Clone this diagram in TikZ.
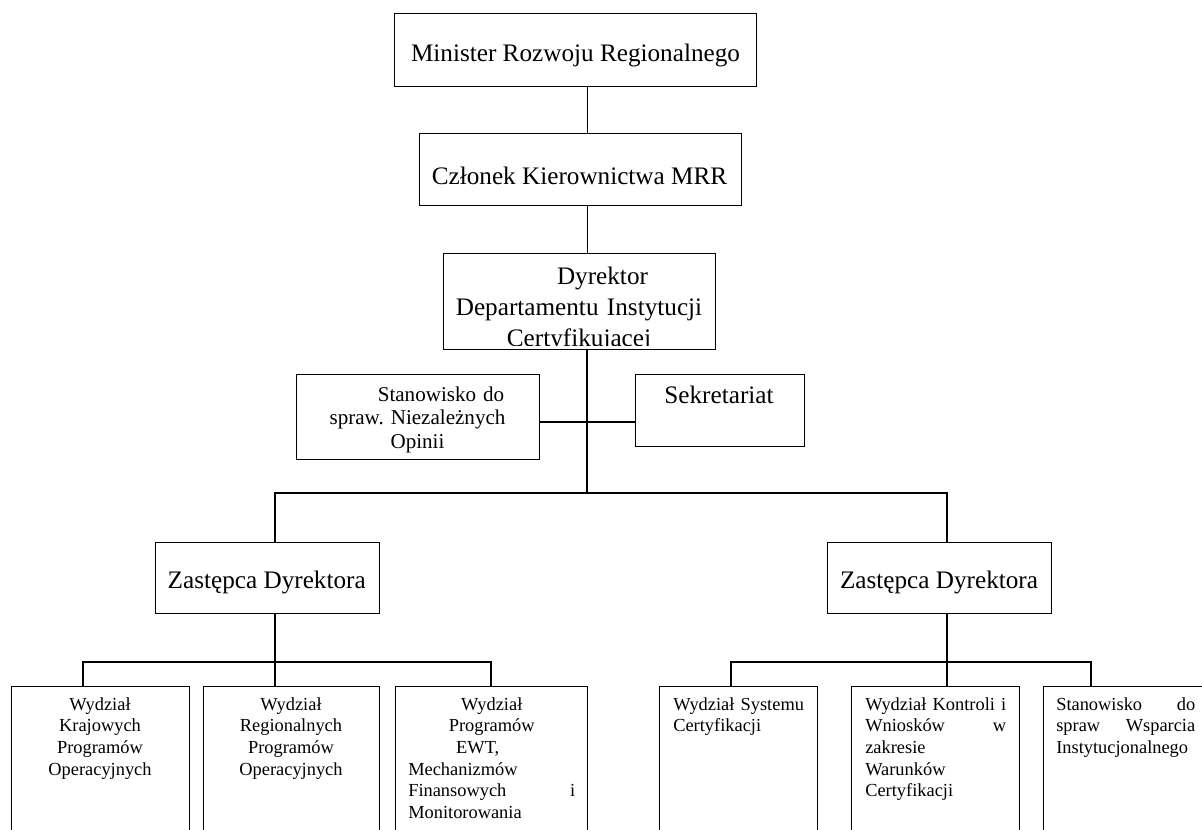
\documentclass[tikz,border=0pt]{standalone}
\usepackage{fontspec}
\setmainfont{Liberation Serif}

\begin{document}
\begin{tikzpicture}[x=0.75pt,y=0.75pt,yscale=-1,xscale=1,
  box/.style={draw, line width=1.1pt, inner sep=0pt, anchor=north west},
  conn/.style={line width=1.1pt},
  thinconn/.style={line width=0.75pt},
  bigtext/.style={font=\fontsize{18.9}{23.5}\selectfont, inner sep=0pt},
  medtext/.style={font=\fontsize{15.8}{17.7}\selectfont, inner sep=0pt},
  smalltext/.style={font=\fontsize{13.8}{16.3}\selectfont, inner sep=0pt}]
%uncomment if require: \path (0,829); %set diagram left start at 0, and has height of 829
\useasboundingbox (0,0) rectangle (1202,829);
\clip (0,0) rectangle (1202,829);

%Shape: Rectangle
\node[box, minimum width=271.5pt, minimum height=54.75pt] (min) at (394,13) {};
\node[box, minimum width=241.5pt, minimum height=54pt] (czl) at (419,133) {};
\node[box, minimum width=204pt, minimum height=72pt] (dyr) at (443,253) {};
\node[box, minimum width=182.25pt, minimum height=63.75pt] (sta) at (296,374) {};
\node[box, minimum width=126.75pt, minimum height=54pt] (sek) at (635,374) {};
\node[box, minimum width=168pt, minimum height=53.25pt] (zl) at (155,542) {};
\node[box, minimum width=168pt, minimum height=53.25pt] (zr) at (827,542) {};
%Shape: Rectangle (cut at the bottom)
\node[box, minimum width=133.5pt, minimum height=130.5pt] (wk) at (11,686) {};
\node[box, minimum width=132pt, minimum height=130.5pt] (wr) at (203,686) {};
\node[box, minimum width=144pt, minimum height=130.5pt] (wp) at (395,686) {};
\node[box, minimum width=118.5pt, minimum height=130.5pt] (ws) at (659,686) {};
\node[box, minimum width=126pt, minimum height=130.5pt] (wn) at (851,686) {};
\node[box, minimum width=124.5pt, minimum height=130.5pt] (wi) at (1043,686) {};

%Straight Lines
\coordinate (axis) at (587,493);
\coordinate (sideline) at (587,422);
\coordinate (jl) at (275,493);
\coordinate (jr) at (947,493);
\coordinate (bl) at (275,662);
\coordinate (dk) at (83,662);
\coordinate (dp) at (491,662);
\coordinate (br) at (947,662);
\coordinate (ds) at (731,662);
\coordinate (di) at (1091,662);
\draw[thinconn] (axis |- min.south) -- (axis |- czl.north);
\draw[thinconn] (axis |- czl.south) -- (axis |- dyr.north);
\draw[conn] (axis |- dyr.south) -- (axis);
\draw[conn] (sideline -| sta.east) -- (sideline -| sek.west);
\draw[conn] (jl |- zl.north) -- (jl) -- (jr) -- (jr |- zr.north);
\draw[conn] (jl |- zl.south) -- (bl) -- (bl |- wr.north);
\draw[conn] (dk |- wk.north) -- (dk) -- (dp) -- (dp |- wp.north);
\draw[conn] (jr |- zr.south) -- (br) -- (br |- wn.north);
\draw[conn] (ds |- ws.north) -- (ds) -- (di) -- (di |- wi.north);

% Text Node
\node[bigtext, anchor=base] (min-t) at (575.5,61) {Minister Rozwoju Regionalnego};
% Text Node
\node[bigtext, anchor=base] (czl-t) at (579.5,184) {Członek Kierownictwa MRR};
% Text Node
\begin{scope}
\clip (dyr.north west) rectangle ([yshift=-3.5pt]dyr.south east);
\node[bigtext, anchor=base, text width=204pt, align=center] (dyr-t) at (579,284) {\hspace*{35.25pt}Dyrektor\\Departamentu Instytucji\\Certyfikującej};
\end{scope}
% Text Node
\node[medtext, anchor=base, text width=182.25pt, align=center] (sta-t) at (417.5,401) {\hspace*{35.25pt}Stanowisko do\\spraw.\ Niezależnych\\Opinii};
% Text Node
\node[bigtext, anchor=base] (sek-t) at (719,403.3) {Sekretariat};
% Text Node
\node[bigtext, anchor=base] (zl-t) at (266.7,588.3) {Zastępca Dyrektora};
% Text Node
\node[bigtext, anchor=base] (zr-t) at (939,588.3) {Zastępca Dyrektora};
% Text Node
\node[smalltext, anchor=base, text width=113.25pt, align=center] (wk-t) at (100,710) {Wydział\\Krajowych\\Programów\\Operacyjnych};
% Text Node
\node[smalltext, anchor=base, text width=111.75pt, align=center] (wr-t) at (291,710) {Wydział\\Regionalnych\\Programów\\Operacyjnych};
% Text Node
\node[smalltext, anchor=base west, text width=125.25pt, align=left] (wp-t) at (408,710) {\makebox[\hsize][c]{Wydział}\\\makebox[\hsize][c]{Programów}\\\makebox[\hsize][c]{EWT,\hspace*{21pt}}\\Mechanizmów\\\makebox[\hsize][l]{Finansowych\hfill i}\\Monitorowania};
% Text Node
\node[smalltext, anchor=base west, text width=101pt, align=left] (ws-t) at (673,710) {Wydział Systemu\\Certyfikacji};
% Text Node
\node[smalltext, anchor=base west, text width=105.75pt, align=left] (wn-t) at (865,710) {\makebox[\hsize][l]{Wydział\hfill Kontroli\hfill i}\\\makebox[\hsize][l]{Wniosków\hfill w}\\zakresie\\Warunków\\Certyfikacji};
% Text Node
\node[smalltext, anchor=base west, text width=104.25pt, align=left] (wi-t) at (1056,710) {\makebox[\hsize][l]{Stanowisko\hfill do}\\\makebox[\hsize][l]{spraw\hfill Wsparcia}\\Instytucjonalnego};
\end{tikzpicture}
\end{document}
